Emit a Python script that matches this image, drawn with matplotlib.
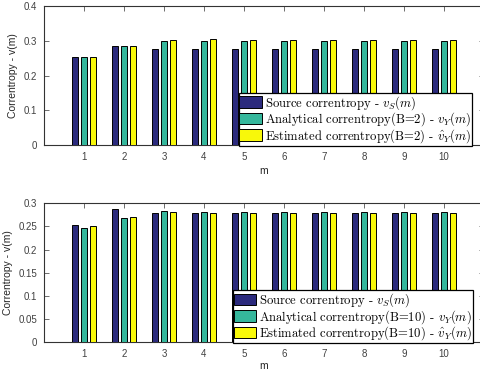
import matplotlib
matplotlib.use("Agg")
import matplotlib.pyplot as plt
import numpy as np
from matplotlib.ticker import FuncFormatter

m = [1, 2, 3, 4, 5, 6, 7, 8, 9, 10]

src_top = [0.252, 0.286, 0.277, 0.277, 0.277, 0.277, 0.277, 0.277, 0.277, 0.277]
ana_top = [0.252, 0.286, 0.298, 0.298, 0.298, 0.298, 0.298, 0.298, 0.298, 0.298]
est_top = [0.252, 0.286, 0.301, 0.305, 0.301, 0.301, 0.301, 0.301, 0.301, 0.302]

src_bot = [0.253, 0.287, 0.278, 0.278, 0.278, 0.278, 0.278, 0.278, 0.278, 0.278]
ana_bot = [0.246, 0.268, 0.283, 0.281, 0.281, 0.281, 0.281, 0.281, 0.281, 0.281]
est_bot = [0.252, 0.271, 0.281, 0.278, 0.280, 0.280, 0.280, 0.279, 0.279, 0.280]

labels_top = [r"Source correntropy - $v_S(m)$",
              r"Analytical correntropy(B=2) - $v_Y(m)$",
              r"Estimated correntropy(B=2) - $\hat{v}_Y(m)$"]
labels_bot = [r"Source correntropy - $v_S(m)$",
              r"Analytical correntropy(B=10) - $v_Y(m)$",
              r"Estimated correntropy(B=10) - $\hat{v}_Y(m)$"]

colors = ['#2b2a7d', '#35b79c', '#f8f80a']

plt.rcParams['mathtext.fontset'] = 'cm'
plt.rcParams['font.family'] = ['Liberation Sans', 'DejaVu Sans']

fig = plt.figure(figsize=(4.81, 3.71), dpi=100)
ax1 = fig.add_axes([44/481, 1-145/371, 440/481, 139/371])
ax2 = fig.add_axes([44/481, 1-342.3/371, 440/481, 139/371])

x = np.array(m, dtype=float)
off = 0.225
w = 0.15
tc = '#404040'

def draw(ax, series, labels, ylim, yticks, legx, xlpad):
    for i, (vals, c) in enumerate(zip(series, colors)):
        ax.bar(x + (i - 1) * off, vals, width=w, color=c,
               edgecolor='black', linewidth=0.7, label=labels[i], zorder=3)
    ax.set_xlim(0, 11)
    ax.set_ylim(*ylim)
    ax.set_xticks(m)
    ax.set_yticks(yticks)
    ax.yaxis.set_major_formatter(FuncFormatter(lambda v, p: '%g' % round(v, 3)))
    ax.tick_params(direction='in', top=True, right=True, length=3.5,
                   width=0.6, labelsize=7, colors='#555555', labelcolor=tc, pad=5)
    for s in ax.spines.values():
        s.set_color('#333333')
        s.set_linewidth(0.8)
    ax.set_ylabel('Correntropy - v(m)', fontsize=7.5, color='#262626', labelpad=4)
    ax.set_xlabel('m', fontsize=7.5, color='#262626', labelpad=xlpad)
    leg = ax.legend(loc='lower right', bbox_to_anchor=(legx, -0.005),
                    borderaxespad=0, prop={'family': 'cmr10', 'size': 9.1},
                    frameon=True, fancybox=False,
                    handlelength=1.75, handleheight=1.0, handletextpad=0.25,
                    labelspacing=-0.1, borderpad=0.07)
    fr = leg.get_frame()
    fr.set_edgecolor('black')
    fr.set_linewidth(0.9)
    fr.set_alpha(1)
    leg.set_zorder(5)

draw(ax1, [src_top, ana_top, est_top], labels_top, (0, 0.4),
     [0, 0.1, 0.2, 0.3, 0.4], 0.973, 3)
draw(ax2, [src_bot, ana_bot, est_bot], labels_bot, (0, 0.3),
     [0, 0.05, 0.1, 0.15, 0.2, 0.25, 0.3], 0.975, 1.5)

fig.savefig('out.png', dpi=100)
